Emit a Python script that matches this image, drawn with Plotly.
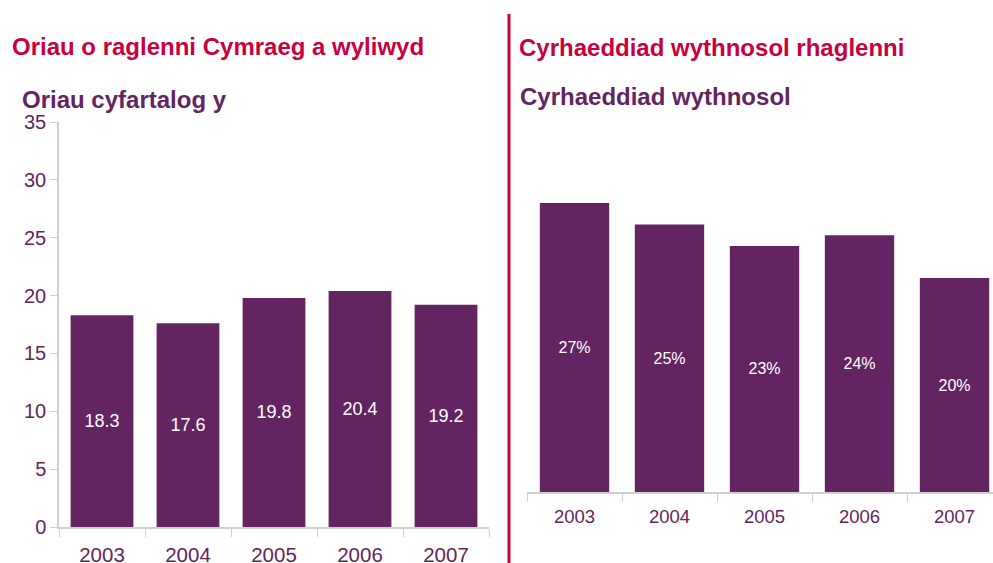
import plotly.graph_objects as go

years = ["2003", "2004", "2005", "2006", "2007"]
hours = [18.3, 17.6, 19.8, 20.4, 19.2]
reach = [27, 25, 23, 24, 20]
reach_labels = ["27%", "25%", "23%", "24%", "20%"]

title_left = "Oriau o raglenni Cymraeg a wyliwyd"
sub_left = "Oriau cyfartalog y"
title_right = "Cyrhaeddiad wythnosol rhaglenni"
sub_right = "Cyrhaeddiad wythnosol"

W, H = 993, 563
PURPLE = "#622561"
CRIMSON = "#C8003F"
GRAY = "#D0D0D0"
FONT = "Liberation Sans, Arial, sans-serif"

def px(x):
    return x / W

def py(y):
    return 1 - y / H

fig = go.Figure()
fig.add_trace(go.Bar(
    x=years, y=hours, xaxis="x", yaxis="y",
    marker=dict(color=PURPLE, line=dict(width=0)),
    text=[f"{v:.1f}" for v in hours], textposition="inside",
    insidetextanchor="middle", textangle=0,
    textfont=dict(color="white", size=18, family=FONT),
    hoverinfo="skip",
))
fig.add_trace(go.Bar(
    x=years, y=reach, xaxis="x2", yaxis="y2",
    marker=dict(color=PURPLE, line=dict(width=0)),
    text=reach_labels, textposition="inside",
    insidetextanchor="middle", textangle=0,
    textfont=dict(color="white", size=16, family=FONT),
    hoverinfo="skip",
))

fig.update_layout(
    width=W, height=H,
    margin=dict(l=0, r=0, t=0, b=0, autoexpand=False),
    paper_bgcolor="white", plot_bgcolor="white",
    showlegend=False, bargap=0.27,
    font=dict(family=FONT, color=PURPLE),
    xaxis=dict(
        domain=[px(59), px(489)], anchor="y", automargin=False,
        type="category", range=[-0.5, 4.5],
        showline=True, linecolor=GRAY, linewidth=1.5,
        ticks="outside", tickson="boundaries", ticklen=8, tickcolor=GRAY,
        ticklabelstandoff=9,
        tickfont=dict(size=20.5, color=PURPLE), showgrid=False,
    ),
    yaxis=dict(
        domain=[py(527), py(122)], anchor="x", automargin=False,
        range=[0, 35], dtick=5,
        showline=True, linecolor=GRAY, linewidth=1.5,
        ticks="outside", ticklen=7, tickcolor=GRAY,
        tickfont=dict(size=20, color=PURPLE), showgrid=False, zeroline=False,
    ),
    xaxis2=dict(
        domain=[px(527), 1.0], anchor="y2", automargin=False,
        type="category", range=[-0.5, 4.405],
        showline=True, linecolor=GRAY, linewidth=1.5,
        ticks="outside", tickson="boundaries", ticklen=8, tickcolor=GRAY,
        ticklabelstandoff=7,
        tickfont=dict(size=18.5, color=PURPLE), showgrid=False,
    ),
    yaxis2=dict(
        domain=[py(492), py(122)], anchor="x2", automargin=False,
        range=[0, (492 - 122) / 10.7],
        visible=False,
    ),
)

fig.add_shape(type="line", xref="paper", yref="paper",
              x0=px(509), x1=px(509), y0=0, y1=py(14),
              line=dict(color=CRIMSON, width=3))

def label(text, x, y, color, size):
    fig.add_annotation(text=f"<b>{text}</b>", xref="paper", yref="paper",
                       x=px(x), y=py(y), xanchor="left", yanchor="middle",
                       showarrow=False,
                       font=dict(size=size, color=color, family=FONT))

label(title_left, 10, 46, CRIMSON, 24)
label(sub_left, 20, 99, PURPLE, 24)
label(title_right, 517, 47, CRIMSON, 24)
label(sub_right, 518, 96, PURPLE, 24)

fig.write_html(
    "out.html",
    config={"displayModeBar": False},
    post_script="document.body.style.margin='0';document.body.style.overflow='hidden';",
)
